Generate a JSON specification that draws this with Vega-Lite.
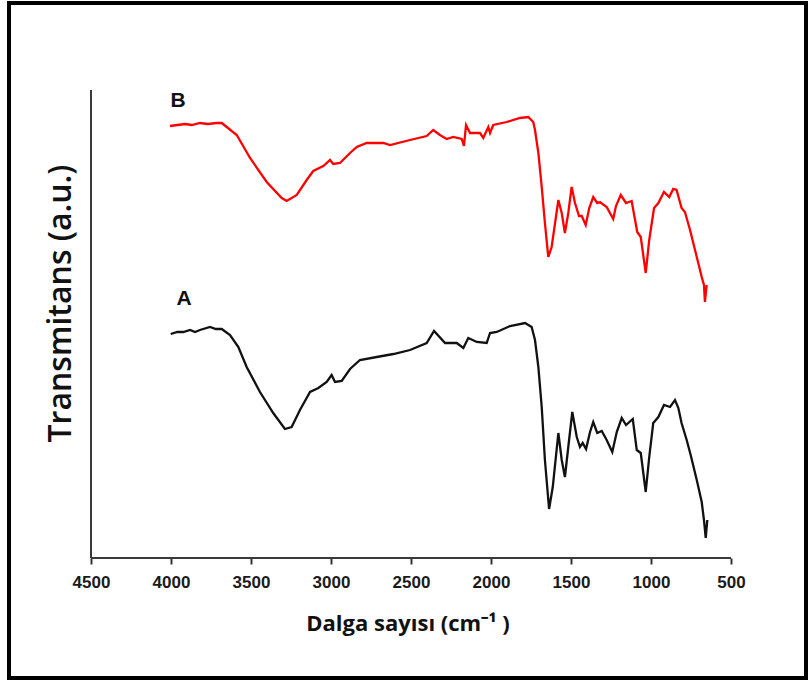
{
  "$schema": "https://vega.github.io/schema/vega-lite/v6.json",
  "width": 797,
  "height": 675,
  "autosize": {"type": "none"},
  "padding": {"left": 9, "top": 3, "right": 4, "bottom": 3},
  "background": "white",
  "config": {"view": {"stroke": "#000000", "strokeWidth": 4}, "axis": {"grid": false}},
  "datasets": {
    "axislines": [
      {"w": 4500, "w2": 500, "t": 0, "t2": 0},
      {"w": 4500, "w2": 4500, "t": 0, "t2": 468}
    ],
    "labels": [
      {"w": 3956, "t": 457, "lab": "B"},
      {"w": 3919, "t": 259, "lab": "A"}
    ],
    "spectra": [
      {"s": "B", "w": 4006, "t": 432}, {"s": "B", "w": 3960, "t": 433}, {"s": "B", "w": 3912, "t": 434}, {"s": "B", "w": 3870, "t": 433}, {"s": "B", "w": 3819, "t": 435}, {"s": "B", "w": 3770, "t": 434}, {"s": "B", "w": 3714, "t": 435}, {"s": "B", "w": 3683, "t": 435},
      {"s": "B", "w": 3589, "t": 423}, {"s": "B", "w": 3506, "t": 400}, {"s": "B", "w": 3402, "t": 376}, {"s": "B", "w": 3308, "t": 360}, {"s": "B", "w": 3277, "t": 357}, {"s": "B", "w": 3214, "t": 363}, {"s": "B", "w": 3152, "t": 378}, {"s": "B", "w": 3111, "t": 387}, {"s": "B", "w": 3048, "t": 392}, {"s": "B", "w": 3006, "t": 398}, {"s": "B", "w": 2986, "t": 394}, {"s": "B", "w": 2944, "t": 395}, {"s": "B", "w": 2881, "t": 405}, {"s": "B", "w": 2839, "t": 411}, {"s": "B", "w": 2777, "t": 415}, {"s": "B", "w": 2673, "t": 415}, {"s": "B", "w": 2631, "t": 413}, {"s": "B", "w": 2506, "t": 418}, {"s": "B", "w": 2402, "t": 422}, {"s": "B", "w": 2361, "t": 428}, {"s": "B", "w": 2319, "t": 423}, {"s": "B", "w": 2277, "t": 419}, {"s": "B", "w": 2236, "t": 421}, {"s": "B", "w": 2183, "t": 419}, {"s": "B", "w": 2169, "t": 412}, {"s": "B", "w": 2156, "t": 433}, {"s": "B", "w": 2131, "t": 425}, {"s": "B", "w": 2069, "t": 425}, {"s": "B", "w": 2048, "t": 420}, {"s": "B", "w": 2017, "t": 431}, {"s": "B", "w": 2006, "t": 425}, {"s": "B", "w": 1986, "t": 433}, {"s": "B", "w": 1902, "t": 436}, {"s": "B", "w": 1819, "t": 440}, {"s": "B", "w": 1767, "t": 441}, {"s": "B", "w": 1736, "t": 436}, {"s": "B", "w": 1725, "t": 428}, {"s": "B", "w": 1704, "t": 405}, {"s": "B", "w": 1683, "t": 371}, {"s": "B", "w": 1663, "t": 335}, {"s": "B", "w": 1642, "t": 301}, {"s": "B", "w": 1621, "t": 311}, {"s": "B", "w": 1579, "t": 358}, {"s": "B", "w": 1558, "t": 345}, {"s": "B", "w": 1538, "t": 325}, {"s": "B", "w": 1517, "t": 345}, {"s": "B", "w": 1496, "t": 371}, {"s": "B", "w": 1475, "t": 355}, {"s": "B", "w": 1450, "t": 342}, {"s": "B", "w": 1433, "t": 342}, {"s": "B", "w": 1408, "t": 333}, {"s": "B", "w": 1386, "t": 350}, {"s": "B", "w": 1361, "t": 361}, {"s": "B", "w": 1336, "t": 355}, {"s": "B", "w": 1319, "t": 356}, {"s": "B", "w": 1277, "t": 351}, {"s": "B", "w": 1236, "t": 339}, {"s": "B", "w": 1219, "t": 352}, {"s": "B", "w": 1189, "t": 363}, {"s": "B", "w": 1156, "t": 355}, {"s": "B", "w": 1121, "t": 357}, {"s": "B", "w": 1086, "t": 326}, {"s": "B", "w": 1064, "t": 321}, {"s": "B", "w": 1033, "t": 285}, {"s": "B", "w": 1011, "t": 318}, {"s": "B", "w": 981, "t": 350}, {"s": "B", "w": 954, "t": 355}, {"s": "B", "w": 919, "t": 366}, {"s": "B", "w": 886, "t": 361}, {"s": "B", "w": 861, "t": 369}, {"s": "B", "w": 840, "t": 368}, {"s": "B", "w": 809, "t": 350}, {"s": "B", "w": 788, "t": 346}, {"s": "B", "w": 756, "t": 328}, {"s": "B", "w": 714, "t": 301}, {"s": "B", "w": 683, "t": 281}, {"s": "B", "w": 669, "t": 273}, {"s": "B", "w": 663, "t": 256}, {"s": "B", "w": 652, "t": 273},
      {"s": "A", "w": 4002, "t": 224}, {"s": "A", "w": 3960, "t": 226}, {"s": "A", "w": 3923, "t": 226}, {"s": "A", "w": 3881, "t": 228}, {"s": "A", "w": 3850, "t": 226}, {"s": "A", "w": 3819, "t": 228}, {"s": "A", "w": 3756, "t": 231}, {"s": "A", "w": 3720, "t": 229}, {"s": "A", "w": 3683, "t": 229}, {"s": "A", "w": 3631, "t": 223}, {"s": "A", "w": 3579, "t": 211}, {"s": "A", "w": 3527, "t": 191}, {"s": "A", "w": 3444, "t": 166}, {"s": "A", "w": 3361, "t": 145}, {"s": "A", "w": 3288, "t": 129}, {"s": "A", "w": 3246, "t": 131}, {"s": "A", "w": 3194, "t": 148}, {"s": "A", "w": 3131, "t": 166}, {"s": "A", "w": 3079, "t": 170}, {"s": "A", "w": 3027, "t": 176}, {"s": "A", "w": 2996, "t": 183}, {"s": "A", "w": 2975, "t": 176}, {"s": "A", "w": 2933, "t": 177}, {"s": "A", "w": 2881, "t": 189}, {"s": "A", "w": 2819, "t": 198}, {"s": "A", "w": 2714, "t": 201}, {"s": "A", "w": 2610, "t": 204}, {"s": "A", "w": 2506, "t": 208}, {"s": "A", "w": 2402, "t": 215}, {"s": "A", "w": 2356, "t": 227}, {"s": "A", "w": 2287, "t": 215}, {"s": "A", "w": 2214, "t": 215}, {"s": "A", "w": 2173, "t": 210}, {"s": "A", "w": 2142, "t": 220}, {"s": "A", "w": 2089, "t": 216}, {"s": "A", "w": 2027, "t": 215}, {"s": "A", "w": 2006, "t": 225}, {"s": "A", "w": 1964, "t": 226}, {"s": "A", "w": 1881, "t": 232}, {"s": "A", "w": 1787, "t": 235}, {"s": "A", "w": 1746, "t": 231}, {"s": "A", "w": 1725, "t": 218}, {"s": "A", "w": 1704, "t": 191}, {"s": "A", "w": 1683, "t": 151}, {"s": "A", "w": 1663, "t": 98}, {"s": "A", "w": 1637, "t": 49}, {"s": "A", "w": 1614, "t": 71}, {"s": "A", "w": 1579, "t": 125}, {"s": "A", "w": 1558, "t": 98}, {"s": "A", "w": 1538, "t": 81}, {"s": "A", "w": 1517, "t": 111}, {"s": "A", "w": 1492, "t": 146}, {"s": "A", "w": 1464, "t": 121}, {"s": "A", "w": 1444, "t": 111}, {"s": "A", "w": 1427, "t": 115}, {"s": "A", "w": 1406, "t": 109}, {"s": "A", "w": 1381, "t": 126}, {"s": "A", "w": 1361, "t": 136}, {"s": "A", "w": 1336, "t": 125}, {"s": "A", "w": 1308, "t": 127}, {"s": "A", "w": 1277, "t": 118}, {"s": "A", "w": 1242, "t": 106}, {"s": "A", "w": 1214, "t": 126}, {"s": "A", "w": 1183, "t": 140}, {"s": "A", "w": 1156, "t": 133}, {"s": "A", "w": 1114, "t": 139}, {"s": "A", "w": 1089, "t": 108}, {"s": "A", "w": 1064, "t": 105}, {"s": "A", "w": 1033, "t": 66}, {"s": "A", "w": 1011, "t": 101}, {"s": "A", "w": 986, "t": 135}, {"s": "A", "w": 954, "t": 141}, {"s": "A", "w": 919, "t": 153}, {"s": "A", "w": 881, "t": 151}, {"s": "A", "w": 850, "t": 158}, {"s": "A", "w": 829, "t": 150}, {"s": "A", "w": 809, "t": 135}, {"s": "A", "w": 777, "t": 118}, {"s": "A", "w": 752, "t": 103}, {"s": "A", "w": 714, "t": 78}, {"s": "A", "w": 683, "t": 56}, {"s": "A", "w": 669, "t": 38}, {"s": "A", "w": 658, "t": 20}, {"s": "A", "w": 648, "t": 38}
    ]
  },
  "encoding": {
    "x": {
      "field": "w", "type": "quantitative",
      "scale": {"domain": [31.25, 5012.5], "reverse": true, "nice": false, "zero": false},
      "axis": {
        "orient": "bottom", "offset": -120, "domain": false, "grid": false,
        "values": [4500, 4000, 3500, 3000, 2500, 2000, 1500, 1000, 500],
        "format": "d", "tickSize": 6, "tickWidth": 2, "tickColor": "#333333",
        "labelFont": "Liberation Sans", "labelFontWeight": "bold", "labelFontSize": 17,
        "labelColor": "#1a1a1a", "labelPadding": 10, "labelFlush": false, "labelOverlap": false,
        "title": "Dalga sayısı (cm⁻¹ )", "titleFont": "Liberation Sans Narrow, Open Sans", "titleFontSize": 22,
        "titleFontWeight": "bold", "titleColor": "#111111", "titleY": 65, "titleBaseline": "middle"
      }
    },
    "y": {
      "field": "t", "type": "quantitative",
      "scale": {"domain": [-120, 555], "nice": false, "zero": false},
      "axis": {
        "orient": "left", "offset": -82, "domain": false, "ticks": false, "labels": false, "grid": false,
        "title": "Transmitans (a.u.)", "titleFont": "Open Sans", "titleFontSize": 32,
        "titleFontWeight": 600, "titleColor": "#111111", "titleAngle": -90,
        "titleX": -31, "titleY": 300, "titleBaseline": "middle", "titleAlign": "center"
      }
    }
  },
  "layer": [
    {
      "data": {"name": "axislines"},
      "mark": {"type": "rule", "color": "#3a3a3a", "strokeWidth": 2},
      "encoding": {"x2": {"field": "w2"}, "y2": {"field": "t2"}}
    },
    {
      "data": {"name": "spectra"},
      "mark": {"type": "line", "strokeWidth": 2.3},
      "encoding": {
        "color": {"field": "s", "type": "nominal", "scale": {"domain": ["A", "B"], "range": ["#111111", "#ff0000"]}, "legend": null}
      }
    },
    {
      "data": {"name": "labels"},
      "mark": {"type": "text", "font": "Liberation Sans", "fontWeight": "bold", "fontSize": 21, "color": "#111111", "align": "center", "baseline": "middle"},
      "encoding": {"text": {"field": "lab"}}
    }
  ]
}
